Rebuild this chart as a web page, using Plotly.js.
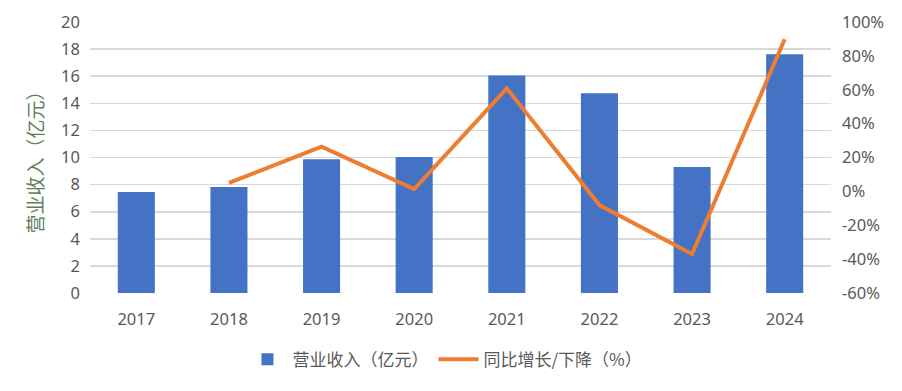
<!DOCTYPE html>
<html>
<head>
<meta charset="utf-8">
<script src="https://cdn.plot.ly/plotly-3.0.1.min.js"></script>
<style>html,body{margin:0;padding:0;background:#fff;}#chart{width:902px;height:391px;}</style>
</head>
<body>
<div id="chart"></div>
<script>
const years = ['2017','2018','2019','2020','2021','2022','2023','2024'];
const revenue = [7.45, 7.82, 9.88, 10.03, 16.05, 14.75, 9.29, 17.62];
const growth = [null, 5.0, 26.4, 1.3, 60.8, -8.1, -37.0, 89.8];
const leftTicks = [0,2,4,6,8,10,12,14,16,18,20];
const rightTicks = [-60,-40,-20,0,20,40,60,80,100];

const fontFam = '"Noto Sans", "Noto Sans CJK SC", sans-serif';
const cjkFam = '"Noto Sans CJK SC", "Noto Sans", sans-serif';
const textColor = '#595959';

const data = [
  {
    type: 'bar', x: years, y: revenue, name: '营业收入（亿元）',
    marker: {color: '#4472C4'}, yaxis: 'y', hoverinfo: 'skip'
  },
  {
    type: 'scatter', mode: 'lines', x: years, y: growth, name: '同比增长/下降（%）',
    line: {color: '#ED7D31', width: 4}, yaxis: 'y2', connectgaps: false, hoverinfo: 'skip'
  }
];

const layout = {
  width: 902, height: 391,
  margin: {l: 90, r: 71, t: 22, b: 98},
  paper_bgcolor: '#fff', plot_bgcolor: '#fff',
  bargap: 0.6,
  font: {family: fontFam, color: textColor, size: 16},
  showlegend: true,
  legend: {
    orientation: 'h', x: 0.479, xanchor: 'center', y: -0.18, yanchor: 'top',
    font: {family: cjkFam, size: 17, color: textColor},
    itemwidth: 40, traceorder: 'normal'
  },
  xaxis: {
    type: 'category', showgrid: false, showline: false, zeroline: false,
    ticks: '', ticklabelstandoff: 14,
    tickfont: {family: fontFam, size: 16.5, color: textColor}
  },
  yaxis: {
    range: [0, 20], tickvals: leftTicks, ticktext: leftTicks.map(String),
    showgrid: true, gridcolor: '#D9D9D9', gridwidth: 1.6,
    zeroline: false, showline: false, ticks: '', ticklabelstandoff: 9,
    tickfont: {family: fontFam, size: 16.5, color: textColor},
    title: {text: '营业收入（亿元）', font: {family: cjkFam, size: 19, color: '#5E7F5E'}, standoff: 12}
  },
  yaxis2: {
    overlaying: 'y', side: 'right', range: [-60, 100],
    tickvals: rightTicks, ticktext: rightTicks.map(v => v + '%'),
    showgrid: false, zeroline: false, showline: false, ticks: '', ticklabelstandoff: 10,
    tickfont: {family: fontFam, size: 16.5, color: textColor}
  }
};

Plotly.newPlot('chart', data, layout, {displayModeBar: false, staticPlot: true});
</script>
</body>
</html>
